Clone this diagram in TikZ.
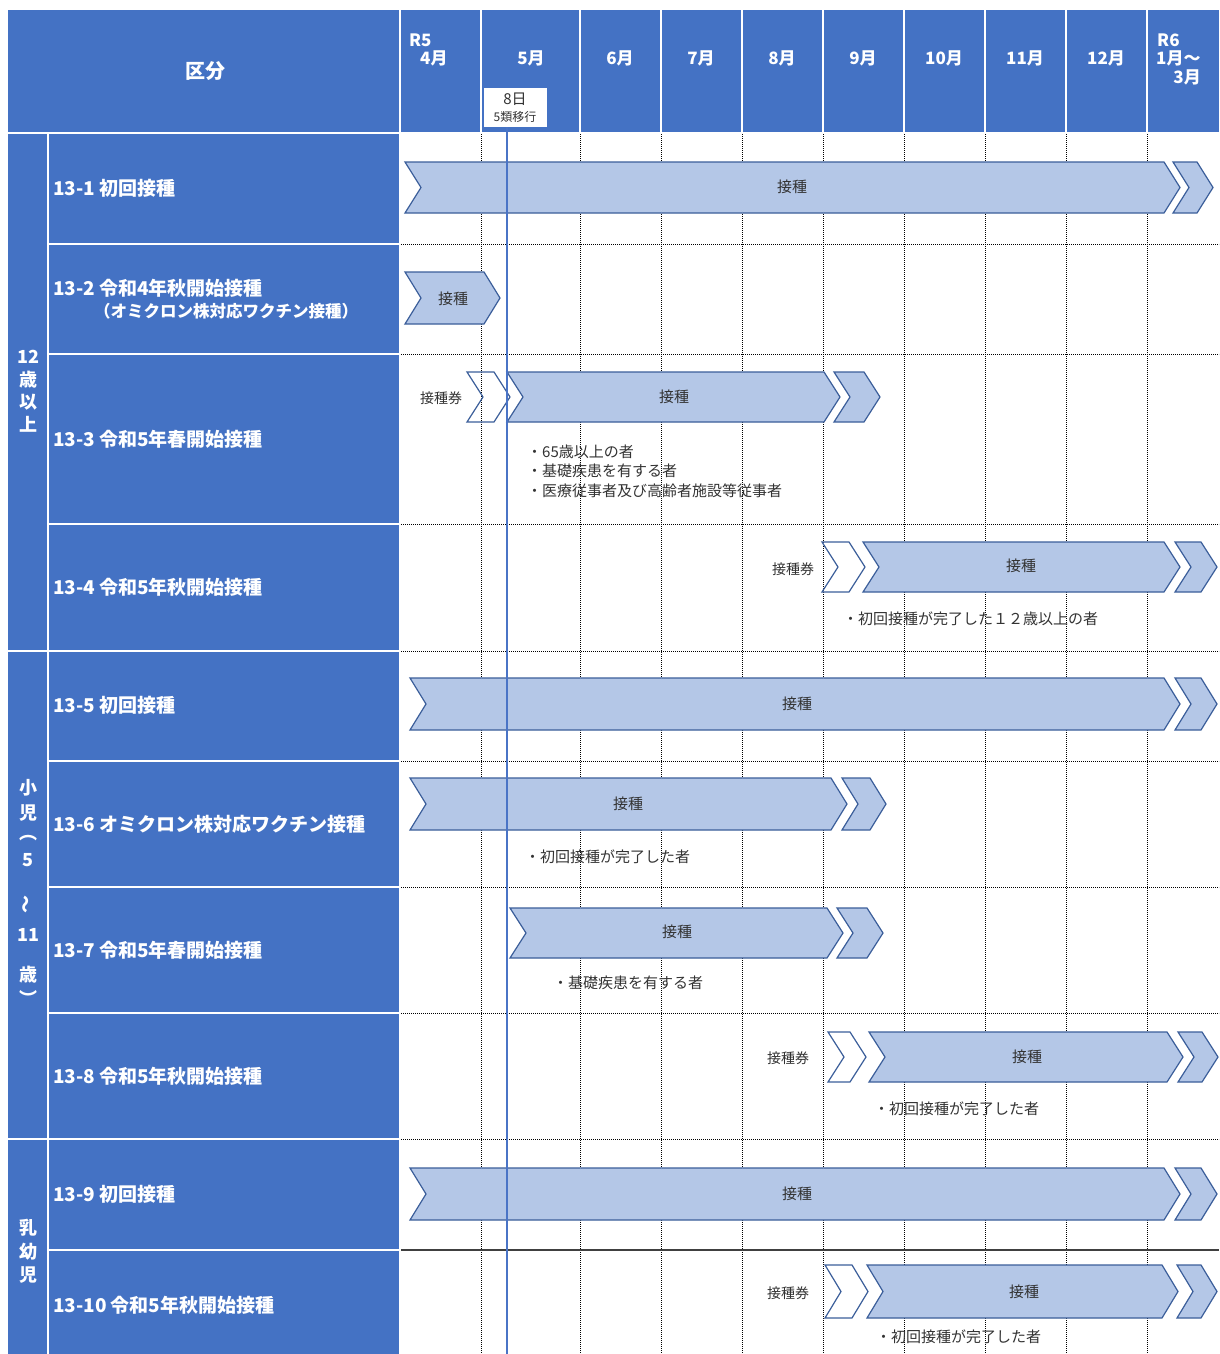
\documentclass[tikz,border=0pt]{standalone}
\usepackage{fontspec}
\setmainfont{Noto Sans CJK JP}
\definecolor{hdr}{HTML}{4472C4}
\definecolor{arfill}{HTML}{B4C7E7}
\definecolor{arline}{HTML}{3B5E9A}
\definecolor{vblue}{HTML}{4A74C6}
\definecolor{txt}{HTML}{333333}
\tikzset{
 hdrtext/.style={text=white, font=\bfseries\fontsize{17}{19}\selectfont, inner sep=0},
 rowlabel/.style={anchor=west, text=white, font=\bfseries\fontsize{19}{21}\selectfont, inner sep=0},
 grptext/.style={text=white, font=\bfseries\fontsize{18}{20}\selectfont, inner sep=0},
 arrowbox/.style={fill=arfill, draw=arline, line width=1.2pt, line join=miter},
 ticketbox/.style={draw=arline, line width=1.2pt, line join=miter},
 arlabel/.style={text=txt, font=\fontsize{15}{17}\selectfont, inner sep=0},
 ticklabel/.style={text=txt, font=\fontsize{14}{16}\selectfont, inner sep=0},
 note/.style={anchor=west, text=txt, font=\fontsize{15}{17}\selectfont, inner sep=0},
 gridline/.style={black, line width=1pt, dash pattern=on 1.2pt off 0.8pt},
 sepline/.style={white, line width=2.2pt},
}
\newcommand{\chev}[5]{%
 \draw[#1] (#2,#4) -- ({#3-16},#4) -- (#3,{(#4+#5)/2}) -- ({#3-16},#5) -- (#2,#5) -- ({#2+16},{(#4+#5)/2}) -- cycle;}
\begin{document}
\begin{tikzpicture}[x=1pt,y=-1pt]
\useasboundingbox (0,0) rectangle (1219,1354);
\fill[white] (0,0) rectangle (1219,1354);
% header and left panel
\fill[hdr] (8,10) rectangle (1219,132);
\fill[hdr] (8,132) rectangle (400,1354);
\foreach \x in {400,481,580,661,742,823,904,985,1066,1147} \draw[sepline] (\x,10) -- (\x,133);
\draw[sepline] (8,133) -- (1219,133);
\draw[sepline] (400,133) -- (400,1354);
\draw[sepline] (48,133) -- (48,1354);
\foreach \y in {244,354,524,761,887,1013,1250} \draw[sepline] (48,\y) -- (400,\y);
\foreach \y in {651,1139} \draw[sepline] (8,\y) -- (400,\y);
% grid
\foreach \x in {481,580,661,742,823,904,985,1066,1147} \draw[gridline] (\x,134) -- (\x,1354);
\foreach \y in {244,354,524,651,761,887,1013,1139} \draw[gridline] (401,\y) -- (1219,\y);
\draw[black!75, line width=1.2pt] (401,1250) -- (1219,1250);
% header texts
\node[hdrtext, font=\bfseries\fontsize{20}{22}\selectfont] (kubun) at (205,71) {区分};
\node[hdrtext, anchor=west] (r5) at (409,40) {R5};
\node[hdrtext, anchor=west] (m4) at (420,58) {4月};
\node[hdrtext] (m5) at (531,58) {5月};
\node[hdrtext] (m6) at (620,58) {6月};
\node[hdrtext] (m7) at (701,58) {7月};
\node[hdrtext] (m8) at (782,58) {8月};
\node[hdrtext] (m9) at (863,58) {9月};
\node[hdrtext] (m10) at (944,58) {10月};
\node[hdrtext] (m11) at (1025,58) {11月};
\node[hdrtext] (m12) at (1106,58) {12月};
\node[hdrtext, anchor=west] (r6) at (1157,40) {R6};
\node[hdrtext, anchor=west] (m1) at (1156,58) {1月～};
\node[hdrtext, anchor=east] (m3) at (1201,77) {3月};
\node[fill=white, minimum width=63pt, minimum height=39pt, inner sep=0] (d8box) at (515.5,107.5) {};
\node[text=txt, font=\fontsize{15}{17}\selectfont, inner sep=0] (d8) at (515,99) {8日};
\node[text=txt, font=\fontsize{12}{14}\selectfont, inner sep=0] (d8b) at (515,117) {5類移行};
% group labels
\node[grptext] (g1a) at (28,357) {12};
\node[grptext] (g1b) at (28,380) {歳};
\node[grptext] (g1c) at (28,402) {以};
\node[grptext] (g1d) at (28,424) {上};
\node[grptext] (g2a) at (28,788) {小};
\node[grptext] (g2b) at (28,813) {児};
\node[grptext] (g2c) at (28,838) {︵};
\node[grptext] (g2d) at (28,860) {5};
\node[grptext, rotate=90] (g2e) at (28,904) {～};
\node[grptext] (g2f) at (28,935) {11};
\node[grptext] (g2g) at (28,975) {歳};
\node[grptext] (g2h) at (28,998) {︶};
\node[grptext] (g3a) at (28,1228) {乳};
\node[grptext] (g3b) at (28,1252) {幼};
\node[grptext] (g3c) at (28,1275) {児};
% row labels
\node[rowlabel] (r1) at (53,188) {13-1\hspace{4pt}初回接種};
\node[rowlabel] (r2) at (53,288) {13-2\hspace{4pt}令和4年秋開始接種};
\node[rowlabel, font=\bfseries\fontsize{16.5}{18}\selectfont] (r2b) at (94,311) {（オミクロン株対応ワクチン接種）};
\node[rowlabel] (r3) at (53,439) {13-3\hspace{4pt}令和5年春開始接種};
\node[rowlabel] (r4) at (53,587) {13-4\hspace{4pt}令和5年秋開始接種};
\node[rowlabel] (r5l) at (53,705) {13-5\hspace{4pt}初回接種};
\node[rowlabel] (r6l) at (53,824) {13-6 オミクロン株対応ワクチン接種};
\node[rowlabel] (r7l) at (53,950) {13-7\hspace{4pt}令和5年春開始接種};
\node[rowlabel] (r8l) at (53,1076) {13-8\hspace{4pt}令和5年秋開始接種};
\node[rowlabel] (r9l) at (53,1194) {13-9\hspace{4pt}初回接種};
\node[rowlabel] (r10l) at (53,1305) {13-10\hspace{4pt}令和5年秋開始接種};
% arrows
% 13-1
\chev{arrowbox}{405}{1180}{162}{213}
\chev{arrowbox}{1173}{1213}{162}{213}
\node[arlabel] (a1) at (792,187) {接種};
% 13-2
\chev{arrowbox}{405}{500}{272}{324}
\node[arlabel] (a2) at (453,299) {接種};
% 13-3
\chev{ticketbox}{467}{510}{372}{422}
\chev{arrowbox}{507}{840}{372}{422}
\chev{arrowbox}{834}{880}{372}{422}
\node[arlabel] (a3) at (674,397) {接種};
\node[ticklabel] (t3) at (441,398) {接種券};
\node[note] (n3a) at (527,452) {・65歳以上の者};
\node[note] (n3b) at (527,471) {・基礎疾患を有する者};
\node[note] (n3c) at (527,491) {・医療従事者及び高齢者施設等従事者};
% 13-4
\chev{ticketbox}{822}{865}{542}{592}
\chev{arrowbox}{863}{1180}{542}{592}
\chev{arrowbox}{1175}{1217}{542}{592}
\node[arlabel] (a4) at (1021,566) {接種};
\node[ticklabel] (t4) at (793,569) {接種券};
\node[note] (n4) at (843,619) {・初回接種が完了した１２歳以上の者};
% 13-5
\chev{arrowbox}{410}{1180}{678}{730}
\chev{arrowbox}{1175}{1217}{678}{730}
\node[arlabel] (a5) at (797,704) {接種};
% 13-6
\chev{arrowbox}{410}{847}{778}{830}
\chev{arrowbox}{842}{886}{778}{830}
\node[arlabel] (a6) at (628,804) {接種};
\node[note] (n6) at (525,857) {・初回接種が完了した者};
% 13-7
\chev{arrowbox}{510}{843}{908}{958}
\chev{arrowbox}{837}{883}{908}{958}
\node[arlabel] (a7) at (677,932) {接種};
\node[note] (n7) at (553,983) {・基礎疾患を有する者};
% 13-8
\chev{ticketbox}{828}{866}{1032}{1082}
\chev{arrowbox}{869}{1183}{1032}{1082}
\chev{arrowbox}{1178}{1218}{1032}{1082}
\node[arlabel] (a8) at (1027,1057) {接種};
\node[ticklabel] (t8) at (788,1058) {接種券};
\node[note] (n8) at (874,1109) {・初回接種が完了した者};
% 13-9
\chev{arrowbox}{410}{1180}{1168}{1220}
\chev{arrowbox}{1175}{1217}{1168}{1220}
\node[arlabel] (a9) at (797,1194) {接種};
% 13-10
\chev{ticketbox}{825}{868}{1265}{1318}
\chev{arrowbox}{867}{1178}{1265}{1318}
\chev{arrowbox}{1177}{1217}{1265}{1318}
\node[arlabel] (a10) at (1024,1292) {接種};
\node[ticklabel] (t10) at (788,1293) {接種券};
\node[note] (n10) at (876,1337) {・初回接種が完了した者};
% 5類移行 line
\draw[vblue, line width=1.2pt] (d8box.south -| 507,127) -- (507,1354);
\end{tikzpicture}
\end{document}
